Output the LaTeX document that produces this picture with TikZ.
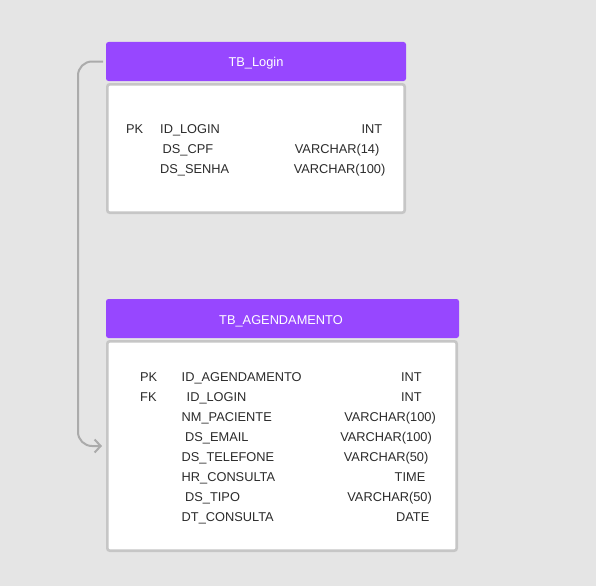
\documentclass[tikz,border=0pt]{standalone}
\usepackage{fontspec}
\setmainfont{Liberation Sans}
\usetikzlibrary{arrows.meta}
\definecolor{bg}{HTML}{E5E5E5}
\definecolor{hdr}{HTML}{9747FF}
\definecolor{bord}{HTML}{C6C6C6}
\definecolor{conn}{HTML}{ABABAB}
\definecolor{txt}{HTML}{2B2B2B}
\tikzset{
  hdrbox/.style={fill=hdr, draw=none, rounded corners=2.5pt},
  bodybox/.style={fill=white, draw=bord, line width=2.6pt, rounded corners=2.5pt},
  hdrtxt/.style={text=white, font=\fontsize{12.8}{15}\selectfont, inner sep=0pt, anchor=base},
  coltxt/.style={text=txt, font=\fontsize{12.8}{15}\selectfont, inner sep=0pt, anchor=base west},
  typtxt/.style={text=txt, font=\fontsize{12.8}{15}\selectfont, inner sep=0pt, anchor=base east},
  connline/.style={draw=conn, line width=2pt, rounded corners=14pt, -{Straight Barb[length=6pt,width=13pt,line width=2pt]}}
}
\begin{document}
\begin{tikzpicture}[x=1pt,y=-1pt]
\fill[bg] (0,0) rectangle (596,586);
\useasboundingbox (0,0) rectangle (596,586);
% TB_Login
\path[bodybox] (107.3,84.3) rectangle (404.7,212.7);
\node[hdrbox, minimum width=300pt, minimum height=39pt, inner sep=0pt] (lhead) at (256,61.5) {};
\node[hdrtxt] (lhtxt) at (256,66.5) {TB\_Login};
\node[coltxt] (l1k) at (126,133) {PK};
\node[coltxt] (l1n) at (160,133) {ID\_LOGIN};
\node[typtxt] (l1t) at (382.5,133) {INT};
\node[coltxt] (l2n) at (162.5,153) {DS\_CPF};
\node[typtxt] (l2t) at (379.5,153) {VARCHAR(14)};
\node[coltxt] (l3n) at (160,173) {DS\_SENHA};
\node[typtxt] (l3t) at (385.5,173) {VARCHAR(100)};
% TB_AGENDAMENTO
\path[bodybox] (107.3,341.3) rectangle (456.7,550.7);
\node[hdrbox, minimum width=353pt, minimum height=39pt, inner sep=0pt] (ahead) at (282.5,318.5) {};
\node[hdrtxt] (ahtxt) at (281,324) {TB\_AGENDAMENTO};
\node[coltxt] (a1k) at (140,381) {PK};
\node[coltxt] (a1n) at (181.5,381) {ID\_AGENDAMENTO};
\node[typtxt] (a1t) at (422,381) {INT};
\node[coltxt] (a2k) at (140,401) {FK};
\node[coltxt] (a2n) at (186.5,401) {ID\_LOGIN};
\node[typtxt] (a2t) at (422,401) {INT};
\node[coltxt] (a3n) at (181.5,421) {NM\_PACIENTE};
\node[typtxt] (a3t) at (436,421) {VARCHAR(100)};
\node[coltxt] (a4n) at (185,441) {DS\_EMAIL};
\node[typtxt] (a4t) at (432,441) {VARCHAR(100)};
\node[coltxt] (a5n) at (181.5,461) {DS\_TELEFONE};
\node[typtxt] (a5t) at (428.5,461) {VARCHAR(50)};
\node[coltxt] (a6n) at (181.5,481) {HR\_CONSULTA};
\node[typtxt] (a6t) at (425.5,481) {TIME};
\node[coltxt] (a7n) at (185,501) {DS\_TIPO};
\node[typtxt] (a7t) at (432,501) {VARCHAR(50)};
\node[coltxt] (a8n) at (181.5,521) {DT\_CONSULTA};
\node[typtxt] (a8t) at (429.5,521) {DATE};
% connector
\coordinate (cstart) at (103,61.5);
\coordinate (cend) at (102,446);
\draw[connline] (cstart) -- (78,61.5) -- (78,446) -- (cend);
\end{tikzpicture}
\end{document}
